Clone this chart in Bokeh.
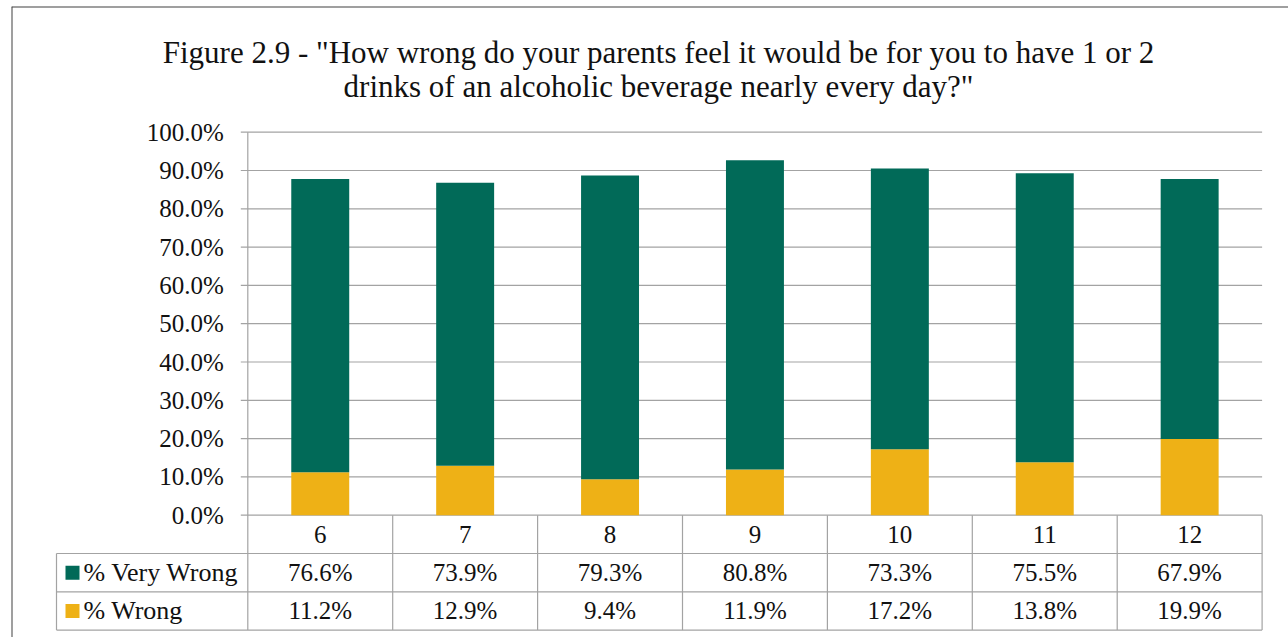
from bokeh.plotting import figure
from bokeh.models import ColumnDataSource, Range1d, Span
from bokeh.core.properties import value
from bokeh.embed import file_html
from bokeh.resources import INLINE

# Survey responses by grade
grades = ["6", "7", "8", "9", "10", "11", "12"]
very_wrong = [76.6, 73.9, 79.3, 80.8, 73.3, 75.5, 67.9]
wrong = [11.2, 12.9, 9.4, 11.9, 17.2, 13.8, 19.9]
series_names = ["% Very Wrong", "% Wrong"]
y_ticks = [0.0, 0.1, 0.2, 0.3, 0.4, 0.5, 0.6, 0.7, 0.8, 0.9, 1.0]
title_lines = [
    'Figure 2.9 - "How wrong do your parents feel it would be for you to have 1 or 2',
    'drinks of an alcoholic beverage nearly every day?"',
]

GREEN = "#016A58"
GOLD = "#EEB116"
GRID = "#A3A3A3"
TEXT = "#111111"
FONT = value("Liberation Serif")

W, H = 1288, 637
LEFT, TOP = 11, 6
# pixel geometry of the plotting area: one category slot and the 0..1 value span
SLOT_PX = 144.9
ORIGIN_X = 247.3
UNIT_PX = 383.0
ORIGIN_Y = 514.7

x_start = -(ORIGIN_X - LEFT) / SLOT_PX
x_end = (W - ORIGIN_X) / SLOT_PX
y_start = -(H - ORIGIN_Y) / UNIT_PX
y_end = (ORIGIN_Y - TOP) / UNIT_PX

p = figure(width=W, height=H, output_backend="svg", toolbar_location=None,
           x_range=Range1d(x_start, x_end), y_range=Range1d(y_start, y_end),
           x_axis_type=None, y_axis_type=None,
           min_border_left=LEFT, min_border_top=TOP,
           min_border_right=0, min_border_bottom=0)
p.grid.visible = False
p.outline_line_color = None
p.background_fill_color = "white"
p.border_fill_color = "white"

n = len(grades)
xs = [i + 0.5 for i in range(n)]
px = 1.0 / SLOT_PX  # one pixel in x data units

# horizontal gridlines with small outward tick marks
p.segment(x0=[-7 * px] * len(y_ticks), y0=y_ticks, x1=[n] * len(y_ticks), y1=y_ticks,
          line_color=GRID, line_width=1.2)

# tick labels
p.text(x=[-24 * px] * len(y_ticks), y=y_ticks, text=[f"{t * 100:.1f}%" for t in y_ticks],
       text_font=FONT, text_font_size="25px", text_align="right",
       text_baseline="middle", text_color=TEXT)

# stacked bars
src = ColumnDataSource(dict(x=xs, wrong=[v / 100 for v in wrong],
                            very_wrong=[v / 100 for v in very_wrong]))
p.vbar_stack(["wrong", "very_wrong"], x="x", width=0.4, color=[GOLD, GREEN],
             line_color=None, source=src)

# data table under the plot
row_h = 0.1
legend_left = -(ORIGIN_X - 56) / SLOT_PX
# vertical axis line continuing through the table
p.segment(x0=[0], y0=[1.0], x1=[0], y1=[-3 * row_h], line_color=GRID, line_width=1.2)
# column separators
p.segment(x0=list(range(1, n + 1)), y0=[0] * n, x1=list(range(1, n + 1)), y1=[-3 * row_h] * n,
          line_color=GRID, line_width=1.2)
# row separators
p.segment(x0=[legend_left] * 3, y0=[-row_h, -2 * row_h, -3 * row_h],
          x1=[n] * 3, y1=[-row_h, -2 * row_h, -3 * row_h],
          line_color=GRID, line_width=1.2)
p.segment(x0=[legend_left], y0=[-row_h], x1=[legend_left], y1=[-3 * row_h],
          line_color=GRID, line_width=1.2)

# header with the grades
p.text(x=xs, y=[-0.5 * row_h] * n, text=grades, text_font=FONT, text_font_size="25px",
       text_align="center", text_baseline="middle", text_color=TEXT)
# value rows
p.text(x=xs, y=[-1.5 * row_h] * n, text=[f"{v:.1f}%" for v in very_wrong], text_font=FONT,
       text_font_size="25px", text_align="center", text_baseline="middle", text_color=TEXT)
p.text(x=xs, y=[-2.5 * row_h] * n, text=[f"{v:.1f}%" for v in wrong], text_font=FONT,
       text_font_size="25px", text_align="center", text_baseline="middle", text_color=TEXT)

# legend keys in the first column
p.scatter(x=[legend_left + 16 * px] * 2, y=[-1.5 * row_h, -2.5 * row_h], marker="square",
          size=14, color=[GREEN, GOLD], line_color=None)
p.text(x=[legend_left + 27 * px] * 2, y=[-1.5 * row_h, -2.5 * row_h], text=series_names,
       text_font=FONT, text_font_size="26px", text_align="left", text_baseline="middle",
       text_color=TEXT)

# two-line title
title_x = (658 - ORIGIN_X) / SLOT_PX
p.text(x=[title_x] * 2, y=[(ORIGIN_Y - 52) / UNIT_PX, (ORIGIN_Y - 86) / UNIT_PX],
       text=title_lines, text_font=FONT, text_font_size="31px", text_align="center",
       text_baseline="alphabetic", text_color=TEXT)

# chart frame (left and top edges)
p.add_layout(Span(location=x_start, dimension="height", line_color="#404040", line_width=2))
p.add_layout(Span(location=y_end, dimension="width", line_color="#404040", line_width=2))

open("out.html", "w").write(file_html(p, INLINE))
